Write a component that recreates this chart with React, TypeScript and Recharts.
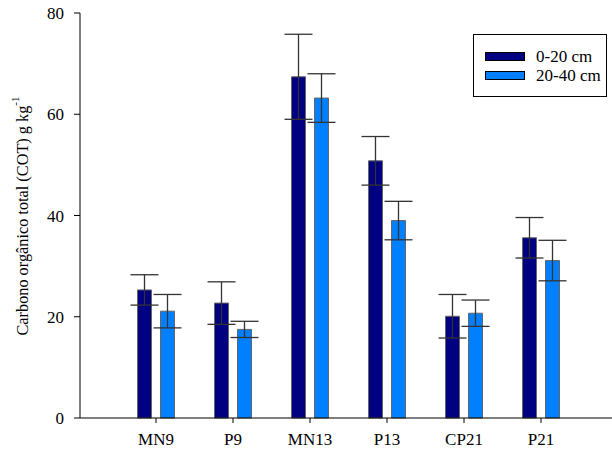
import { BarChart, Bar, XAxis, YAxis, ErrorBar } from 'recharts'

const categories = ['MN9', 'P9', 'MN13', 'P13', 'CP21', 'P21']
const shallow = [25.3, 22.7, 67.4, 50.8, 20.1, 35.6]
const shallowErr = [3.0, 4.2, 8.4, 4.8, 4.3, 4.0]
const deep = [21.1, 17.5, 63.2, 39.0, 20.7, 31.1]
const deepErr = [3.3, 1.6, 4.8, 3.8, 2.6, 4.0]
const yTicks = [0, 20, 40, 60, 80]
const legendItems = [
  { label: '0-20 cm', color: '#000080' },
  { label: '20-40 cm', color: '#0080ff' },
]

const data = categories.map((name, i) => ({
  name,
  shallow: shallow[i],
  shallowErr: shallowErr[i],
  deep: deep[i],
  deepErr: deepErr[i],
}))

const font = "'Liberation Serif', 'DejaVu Serif', serif"

function LegendBox() {
  return (
    <div
      style={{
        position: 'absolute',
        left: 473,
        top: 34,
        width: 134,
        height: 63,
        border: '1px solid #000',
        background: '#fff',
        boxSizing: 'border-box',
        paddingTop: 12,
        fontFamily: font,
        fontSize: 17,
        lineHeight: '19px',
      }}
    >
      {legendItems.map((it) => (
        <div key={it.label} style={{ display: 'flex', alignItems: 'center', height: 19, marginLeft: 11 }}>
          <div style={{ width: 40, height: 9, background: it.color, border: '1px solid #000', boxSizing: 'border-box' }} />
          <span style={{ marginLeft: 11, color: '#000', whiteSpace: 'nowrap' }}>{it.label}</span>
        </div>
      ))}
    </div>
  )
}

function XTick({ x, y, payload }: any) {
  return (
    <text x={x} y={y + 22} textAnchor="middle" fontFamily={font} fontSize={17} fill="#000">
      {payload.value}
    </text>
  )
}

function YTick({ x, y, payload }: any) {
  return (
    <text x={x} y={y} dy={6} textAnchor="end" fontFamily={font} fontSize={17} fill="#000">
      {payload.value}
    </text>
  )
}

// rotated y label with a real superscript
function YLabel() {
  return (
    <text
      transform="translate(22, 216) rotate(-90)"
      textAnchor="middle"
      dominantBaseline="central"
      fontFamily={font}
      fontSize={16.3}
      fill="#000"
    >
      Carbono orgânico total (COT) g kg
      <tspan fontSize={11} dy={-7}>-1</tspan>
    </text>
  )
}

export default function App() {
  return (
    <div style={{ position: 'absolute', left: 0, top: 0, width: 612, height: 450, background: '#fff', fontFamily: font }}>
      <BarChart
        width={612}
        height={450}
        data={data}
        margin={{ top: 13, right: 0, bottom: 0, left: 0 }}
        barSize={14}
        barGap={9}
      >
        <XAxis
          dataKey="name"
          height={32}
          padding={{ left: 37.5, right: 32.5 }}
          axisLine={{ stroke: '#000' }}
          tickLine={{ stroke: '#000' }}
          tickSize={5}
          tickMargin={0}
          tick={<XTick />}
          interval={0}
        />
        <YAxis
          width={80}
          domain={[0, 80]}
          ticks={yTicks}
          axisLine={{ stroke: '#000' }}
          tickLine={{ stroke: '#000' }}
          tickSize={6}
          tickMargin={10}
          tick={<YTick />}
          label={<YLabel />}
        />
        <Bar dataKey="shallow" name="0-20 cm" fill="#000080" stroke="#666" strokeWidth={1} isAnimationActive={false}>
          <ErrorBar dataKey="shallowErr" width={14} stroke="#333" strokeWidth={1.3} />
        </Bar>
        <Bar dataKey="deep" name="20-40 cm" fill="#0080ff" stroke="#666" strokeWidth={1} isAnimationActive={false}>
          <ErrorBar dataKey="deepErr" width={14} stroke="#333" strokeWidth={1.3} />
        </Bar>
      </BarChart>
      <LegendBox />
    </div>
  )
}
